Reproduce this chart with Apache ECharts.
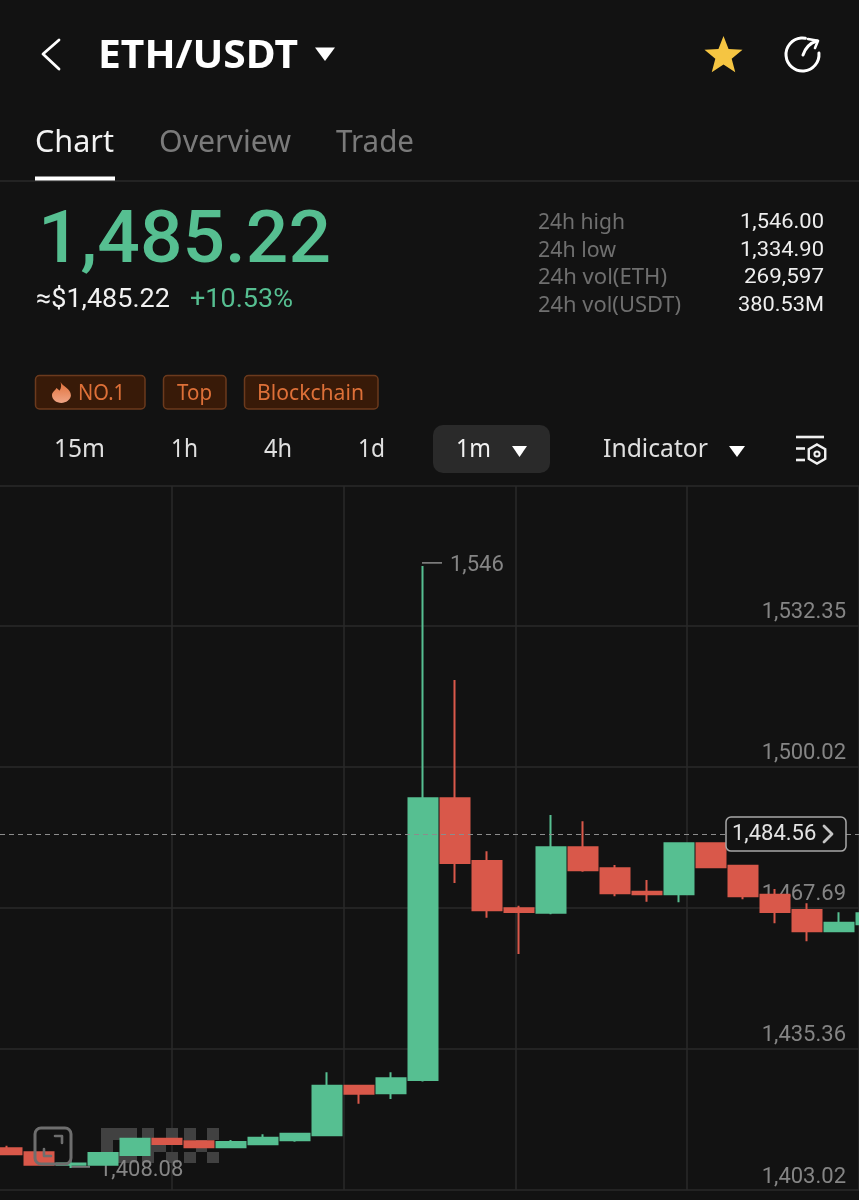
<!DOCTYPE html>
<html><head><meta charset="utf-8">
<style>html,body{margin:0;padding:0;background:#121212}#c{width:859px;height:1200px}</style>
<script src="https://cdn.jsdelivr.net/npm/echarts@6/dist/echarts.min.js"></script>
</head><body><div id="c"></div>
<script>
const candleOpen  = [1412.57,1411.66,1408.79,1408.82,1411.04,1414.77,1414.18,1412.80,1413.49,1414.41,1415.55,1426.92,1425.17,1428.22,1492.76,1478.39,1467.56,1466.55,1481.53,1476.72,1471.36,1470.77,1482.45,1477.32,1470.67,1467.17,1462.29,1463.89];
const candleClose = [1411.20,1408.82,1409.09,1411.50,1414.77,1413.56,1412.80,1414.02,1415.00,1415.92,1426.92,1425.08,1428.61,1492.76,1477.94,1467.10,1466.71,1481.53,1476.26,1470.99,1470.77,1482.45,1476.95,1470.31,1466.71,1462.29,1464.26,1466.41];
const candleLow   = [1411.20,1408.82,1408.08,1408.82,1410.90,1413.40,1412.80,1412.80,1413.49,1414.09,1415.55,1422.79,1423.87,1427.90,1473.35,1465.40,1457.09,1466.18,1475.94,1470.31,1469.07,1468.93,1476.95,1469.62,1464.12,1460.00,1462.29,1463.89];
const candleHigh  = [1413.17,1411.66,1409.89,1411.50,1414.77,1414.77,1414.18,1414.48,1415.78,1416.08,1429.99,1426.92,1429.99,1546.00,1519.86,1480.62,1468.15,1488.93,1487.49,1477.48,1474.04,1482.59,1482.59,1477.32,1471.98,1468.70,1466.64,1466.41];
const priceTicks = [1403.02,1435.36,1467.69,1500.02,1532.35];
const priceMin = 1403.02, priceMax = 1564.3;
const lastPrice = 1484.56, highLabel = 1546, lowLabel = 1408.08, highIndex = 13, lowIndex = 2;
const quote = '1,485.22', quoteUsd = '≈$1,485.22', change = '+10.53%';
const statNames = ['24h high','24h low','24h vol(ETH)','24h vol(USDT)'];
const statValues = ['1,546.00','1,334.90','269,597','380.53M'];

const GREEN='#56bf91', RED='#d9584a', BG='#121212', GRID='#2a2a2a', GREY='#858585';
const F='"Noto Sans",sans-serif', N='Roboto,sans-serif';
const fmt=(v,d=2)=>Number(v).toLocaleString('en-US',{minimumFractionDigits:d,maximumFractionDigits:d});
const data=candleOpen.map((o,i)=>[i,o,candleClose[i],candleLow[i],candleHigh[i]]);
const mctx=document.createElement('canvas').getContext('2d');

// text starting at x0, squeezed or stretched to end at x1, vertically centred on y
function T(x0,x1,y,text,size,fill,o={}){
  const font=o.font||F, weight=o.weight||400;
  mctx.font=weight+' '+size+'px '+font;
  const sx=x1?(x1-x0)/mctx.measureText(text).width:1;
  return {type:'text',x:x0,y:y+size*0.08,scaleX:sx,z:o.z==null?20:o.z,style:{text,fontSize:size,fontWeight:weight,fontFamily:font,fill,align:'left',verticalAlign:'middle'}};
}
const poly=(pts,fill)=>({type:'polygon',z:20,shape:{points:pts},style:{fill}});
const tri=(x0,x1,y0,y1,fill='#fff')=>poly([[x0,y0],[x1,y0],[(x0+x1)/2,y1]],fill);
const rect=(x,y,w,h,fill,r=0,stroke,z=20)=>({type:'rect',z,shape:{x,y,width:w,height:h,r},style:{fill,stroke,lineWidth:stroke?1.5:0}});
const seg=(x1,y1,x2,y2,stroke,lw=2,z=20)=>({type:'line',z,shape:{x1,y1,x2,y2},style:{stroke,lineWidth:lw}});
const pl=(pts,stroke,lw=2.5,z=20)=>({type:'polyline',z,shape:{points:pts},style:{stroke,lineWidth:lw,fill:null,lineCap:'round',lineJoin:'round'}});
echarts.graphic.registerShape('flame',echarts.graphic.extendPath('M5 0C6 4 11 6 11 12C11 16 8 19 5.5 19C2.5 19 0 16 0 12C0 9 2 8 2.5 5.5C3.5 6.5 4 7 4.2 8C5.5 6 5.5 3 5 0Z',{}));

const gfx=[];
// header
gfx.push(pl([[59,40],[43,54],[59,69]],'#fff',2.8));
gfx.push(T(98,298,53,'ETH/USDT',40,'#fff',{weight:700}));
gfx.push(tri(315,335,47.5,61));
{const pts=[];for(let i=0;i<10;i++){const r=i%2?8.6:20,a=-Math.PI/2+i*Math.PI/5;pts.push([723.5+r*Math.cos(a),56+r*Math.sin(a)]);}
 gfx.push(poly(pts,'#f5c542'));}
gfx.push({type:'arc',z:20,shape:{cx:802.5,cy:54.5,r:16.5,startAngle:-5*Math.PI/180,endAngle:-80*Math.PI/180,clockwise:true},style:{stroke:'#fff',lineWidth:3,fill:null,lineCap:'round'}});
gfx.push({type:'bezierCurve',z:20,shape:{x1:803,y1:55,cpx1:805,cpy1:49,cpx2:810,cpy2:43,x2:817,y2:41},style:{stroke:'#fff',lineWidth:3,fill:null,lineCap:'round'}});
gfx.push(pl([[808,39],[818,40.7],[815,48]],'#fff',2.6));
// tabs
gfx.push(T(35,114,141,'Chart',31,'#f2f2f2'));
gfx.push(T(159,291,141,'Overview',31,'#7a7a7a'));
gfx.push(T(336,414,141,'Trade',31,'#7a7a7a'));
gfx.push(seg(0,181,859,181,GRID,1.5));
gfx.push(rect(35,176.5,80,4,'#fff'));
// quote
gfx.push(T(38,331,238,quote,73,GREEN,{font:N,weight:500}));
gfx.push(T(36,170,298,quoteUsd,26,'#f2f2f2',{font:N}));
gfx.push(T(190,293,298,change,26,GREEN,{font:N}));
const statX=[625,616,667,681], statY=[221,249,276,304], valX=[740,740,744,738];
statNames.forEach((s,i)=>{
  gfx.push(T(538,statX[i],statY[i],s,21,'#6f6f6f'));
  gfx.push(T(valX[i],824,statY[i],statValues[i],21,'#eeeeee',{font:N}));
});
// tags
const tagBoxes=[[35.5,109.5],[163.5,62.5],[244.5,133.5]];
tagBoxes.forEach(b=>gfx.push(rect(b[0],375.5,b[1],33.5,'#381a08',4,'#6b3a1d')));
gfx.push({type:'flame',z:20,x:52,y:382,scaleX:1.72,scaleY:1.1,style:{fill:{type:'linear',x:0,y:0,x2:0,y2:1,colorStops:[{offset:0,color:'#e0703a'},{offset:1,color:'#f0a585'}]}}});
gfx.push(T(78,125,392,'NO.1',22,'#dd7038'));
gfx.push(T(177,212,392,'Top',22,'#dd7038'));
gfx.push(T(257,364,392,'Blockchain',22,'#dd7038'));
// periods
gfx.push(T(54,105,448,'15m',25,'#e0e0e0'));
gfx.push(T(171,198,448,'1h',25,'#e0e0e0'));
gfx.push(T(264,292,448,'4h',25,'#e0e0e0'));
gfx.push(T(358,385,448,'1d',25,'#e0e0e0'));
gfx.push(rect(433,425,117,48,'#2a2a2a',10));
gfx.push(T(456,491,448,'1m',25,'#f2f2f2'));
gfx.push(tri(512,527,446,457));
gfx.push(T(603,708,448,'Indicator',25,'#e0e0e0'));
gfx.push(tri(729,745,446,457));
gfx.push(seg(796,437,824,437,'#f0f0f0',2.6));
gfx.push(seg(796,448.5,805,448.5,'#f0f0f0',2.6));
gfx.push(seg(796,460,805,460,'#f0f0f0',2.6));
{const pts=[];for(let i=0;i<6;i++){const a=-Math.PI/2+i*Math.PI/3;pts.push([817+9.5*Math.cos(a),454+9.5*Math.sin(a)]);}
 gfx.push({type:'polygon',z:20,shape:{points:pts},style:{stroke:'#f0f0f0',lineWidth:2.4,fill:null}});
 gfx.push({type:'circle',z:20,shape:{cx:817,cy:454,r:2.6},style:{stroke:'#f0f0f0',lineWidth:2,fill:null}});}
// watermark under the candles
[[101,1128,36,35],[142,1128,12,35],[154,1140,12,12],[166,1128,12,12],[166,1152,12,11],[184,1128,12,12],[184,1152,12,11],[207,1128,12,12],[207,1152,12,11],[196,1140,11,12]]
 .forEach(b=>gfx.push(rect(b[0],b[1],b[2],b[3],'#414141',0,undefined,1)));
gfx.push(rect(113,1140,11,12,BG,0,undefined,1));
// expand icon over the candles
gfx.push({type:'rect',z:30,shape:{x:35,y:1128,width:36,height:36,r:6},style:{fill:null,stroke:'#6e6e6e',lineWidth:3}});
gfx.push(pl([[55,1136],[62,1136],[62,1143]],'#6e6e6e',2.6,30));
gfx.push(pl([[44,1149],[44,1156],[51,1156]],'#6e6e6e',2.6,30));

const option={
  backgroundColor:BG,animation:false,
  grid:[
    {left:0,top:486,width:859,height:704,show:false},
    {left:0,top:486,width:860,height:704,show:false}
  ],
  xAxis:[
    {type:'value',gridIndex:0,min:-0.21875,max:26.625,axisLine:{show:false},axisTick:{show:false},axisLabel:{show:false},splitLine:{show:false}},
    {type:'value',gridIndex:1,min:0,max:860,interval:172,axisLine:{show:false},axisTick:{show:false},axisLabel:{show:false},splitLine:{show:true,showMinLine:false,lineStyle:{color:GRID,width:1.5}}}
  ],
  yAxis:[
    {type:'value',gridIndex:0,position:'right',min:priceMin,max:priceMax,axisLine:{show:false},
     axisTick:{show:false,customValues:priceTicks.concat([priceMax])},
     axisLabel:{inside:true,margin:13,customValues:priceTicks,formatter:v=>fmt(v),color:GREY,fontFamily:N,fontSize:22,verticalAlign:'bottom',padding:[0,0,2,0]},
     splitLine:{show:true,lineStyle:{color:GRID,width:1.5}}},
    {type:'value',gridIndex:1,min:0,max:1,axisLine:{show:false},axisTick:{show:false},axisLabel:{show:false},splitLine:{show:false}}
  ],
  series:[{
    type:'candlestick',xAxisIndex:0,yAxisIndex:0,data,barWidth:29,encode:{x:0,y:[1,2,3,4]},
    itemStyle:{color:GREEN,color0:RED,borderColor:GREEN,borderColor0:RED,borderWidth:2},
    markLine:{silent:true,symbol:'none',label:{show:false},lineStyle:{color:'#8c8c8c',type:[5,4],width:1},data:[{yAxis:lastPrice}]}
  }]
};
const chart=echarts.init(document.getElementById('c'),null,{renderer:'canvas',width:859,height:1200});
chart.setOption(option);
const at=(i,v)=>chart.convertToPixel({xAxisIndex:0,yAxisIndex:0},[i,v]);
const hi=at(highIndex,highLabel), lo=at(lowIndex,lowLabel), cur=at(0,lastPrice);
gfx.push(seg(hi[0]-1,hi[1]-3,hi[0]+19,hi[1]-3,'#8c8c8c',1.5));
gfx.push(T(hi[0]+27,0,hi[1]-2,fmt(highLabel,0),22,GREY,{font:N}));
gfx.push(seg(lo[0],lo[1]-1,lo[0]+19,lo[1]-1,'#8c8c8c',1.5,1));
gfx.push(T(lo[0]+28,0,lo[1]+1,fmt(lowLabel),22,GREY,{font:N,z:1}));
gfx.push(rect(726,cur[1]-17,120,34,BG,5,'#a8a8a8'));
gfx.push(T(732,0,cur[1]-1,fmt(lastPrice),22,'#e4e4e4',{font:N}));
gfx.push(pl([[824,cur[1]-8],[832,cur[1]],[824,cur[1]+8]],'#c4c4c4',2.8));
chart.setOption({graphic:{elements:gfx}});
</script></body></html>
